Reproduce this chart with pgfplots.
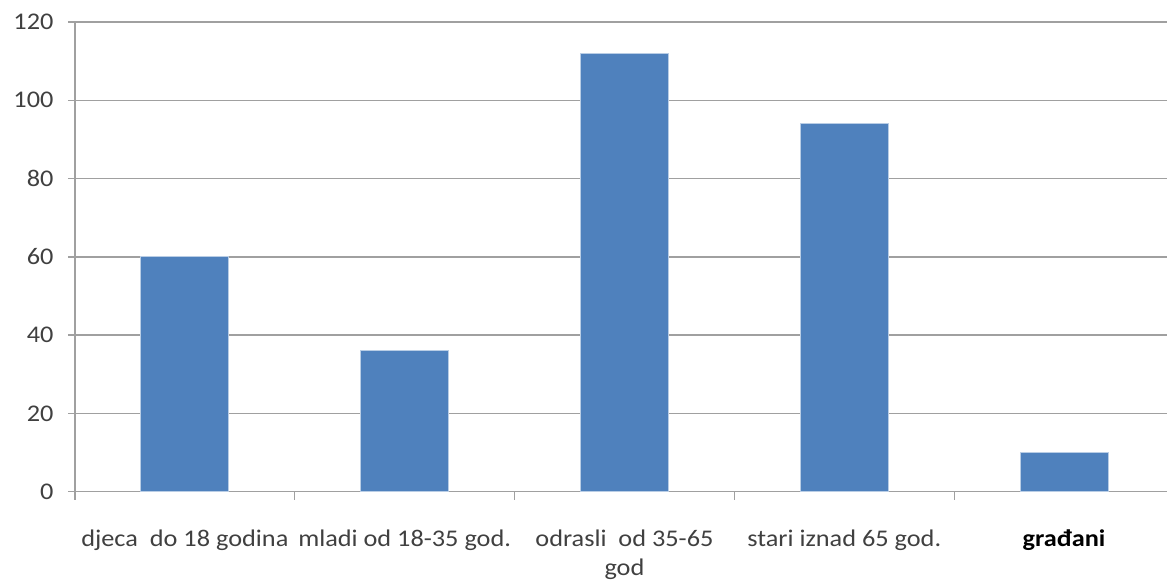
\documentclass[border=0pt]{standalone}
\usepackage{pgfplots}
\pgfplotsset{compat=1.18}
\usepackage{fontspec}
\setmainfont{Carlito}
\definecolor{barblue}{HTML}{4F81BD}
\definecolor{baredge}{HTML}{B9CDE5}
\definecolor{gridgray}{HTML}{A0A0A0}
\definecolor{labgray}{HTML}{404040}

\begin{document}
\begin{tikzpicture}
\begin{axis}[
    scale only axis,
    width=1093bp, height=470bp,
    xmin=-0.5, xmax=4.47,
    ymin=0, ymax=120,
    ytick={0,20,...,120},
    xtick={0,1,2,3,4},
    xticklabels={{djeca\ \ do 18 godina},{mladi od 18-35 god.},{odrasli\ \ od 35-65\\god},{stari iznad 65 god.},{\textbf{\color{black}građani}}},
    minor xtick={-0.5,0.5,1.5,2.5,3.5},
    axis lines=left,
    axis line style={gridgray, line width=1.3bp, -},
    ymajorgrids,
    major grid style={gridgray, line width=1.3bp},
    tick align=outside,
    major x tick style={draw=none},
    minor x tick style={gridgray, line width=1.3bp},
    major y tick style={gridgray, line width=1.3bp},
    minor tick length=8bp,
    major tick length=7bp,
    /pgf/number format/assume math mode=true,
    ticklabel style={font=\fontsize{24}{29}\selectfont, text=labgray, xscale=1.1},
    xticklabel style={align=center, anchor=north, inner sep=0pt, yshift=-31bp},
    yticklabel style={anchor=east, inner sep=0pt, xshift=-13bp},
    ybar, bar width=0.4,
]
\addplot[fill=barblue, draw=baredge, line width=0.8bp] coordinates {
    (0,60) (1,36) (2,112) (3,94) (4,10)
};
\end{axis}
\path (-75bp,-89bp) rectangle (1093bp,492bp);
\end{tikzpicture}
\end{document}
